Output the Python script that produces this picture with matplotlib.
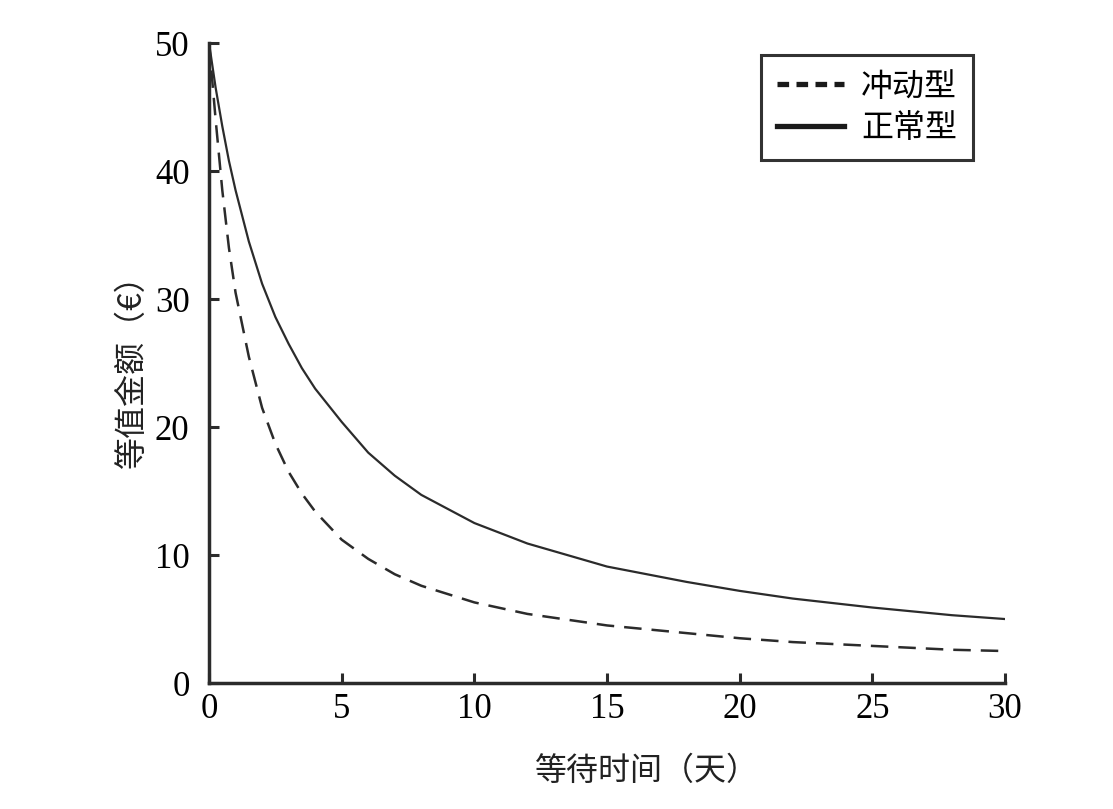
"""Equivalent amount vs waiting time, impulsive vs normal."""
import matplotlib
matplotlib.use("Agg")
import matplotlib.pyplot as plt
from matplotlib.lines import Line2D

days = [0, 0.25, 0.5, 0.75, 1, 1.5, 2, 2.5, 3, 3.5, 4, 5, 6, 7, 8, 10, 12, 15,
        18, 20, 22, 25, 28, 30]
impulsive = [50, 44.0, 38.5, 34.0, 30.5, 25.5, 21.5, 18.7, 16.5, 14.8, 13.4,
             11.2, 9.7, 8.5, 7.6, 6.3, 5.4, 4.5, 3.9, 3.5, 3.2, 2.9, 2.6, 2.5]
normal = [50, 46.5, 43.5, 40.8, 38.5, 34.5, 31.2, 28.6, 26.5, 24.6, 23.0,
          20.4, 18.0, 16.2, 14.7, 12.5, 10.9, 9.1, 7.9, 7.2, 6.6, 5.9, 5.3, 5.0]
labels = ["冲动型", "正常型"]
xticks = [0, 5, 10, 15, 20, 25, 30]
yticks = [0, 10, 20, 30, 40, 50]

CJK = ["Noto Sans CJK SC", "DejaVu Sans"]
NUM = ["Liberation Serif"]
INK = "#2b2b2b"


def main():
    """Draw chart."""
    fig = plt.figure(figsize=(11.13, 8.09), dpi=100)
    ax = fig.add_axes([0.1878, 0.1557, 0.7152, 0.7911])

    ax.plot(days, impulsive, color=INK, lw=1.8, ls=(0, (7, 4)))
    ax.plot(days, normal, color=INK, lw=1.6)

    ax.set_xlim(0, 30)
    ax.set_ylim(0, 50)
    ax.set_xticks(xticks)
    ax.set_yticks(yticks)
    ax.set_xticklabels([str(v) for v in xticks], family=NUM, fontsize=25)
    ax.set_yticklabels([str(v) for v in yticks], family=NUM, fontsize=25)
    ax.tick_params(direction="in", length=7, width=2.2, color=INK)
    ax.tick_params(axis="y", pad=14)
    ax.tick_params(axis="x", pad=7)

    for side in ("top", "right"):
        ax.spines[side].set_visible(False)
    for side in ("left", "bottom"):
        ax.spines[side].set_linewidth(2.5)
        ax.spines[side].set_color(INK)

    ax.set_xlabel("等待时间（天）", family=CJK, fontsize=23, color="#222")
    ax.xaxis.set_label_coords(0.55, -0.112)
    ax.set_ylabel("等值金额（€）", family=CJK, fontsize=23, color="#222")
    ax.yaxis.set_label_coords(-0.077, 0.5)

    # thicker sample lines in the legend, as in the original figure
    handles = [Line2D([], [], color="#1a1a1a", lw=3.8, ls=(0, (2.2, 1.4))),
               Line2D([], [], color="#1a1a1a", lw=3.8)]
    leg = ax.legend(handles, labels, loc="upper right",
                    bbox_to_anchor=(0.960, 0.982),
                    prop={"family": CJK, "size": 23}, frameon=True,
                    fancybox=False, handlelength=2.1, handletextpad=0.55,
                    borderpad=0.5, labelspacing=0.3, borderaxespad=0)
    leg.get_frame().set_edgecolor("black")
    leg.get_frame().set_linewidth(2.2)

    fig.savefig("out.png", dpi=100)


if __name__ == "__main__":
    main()
